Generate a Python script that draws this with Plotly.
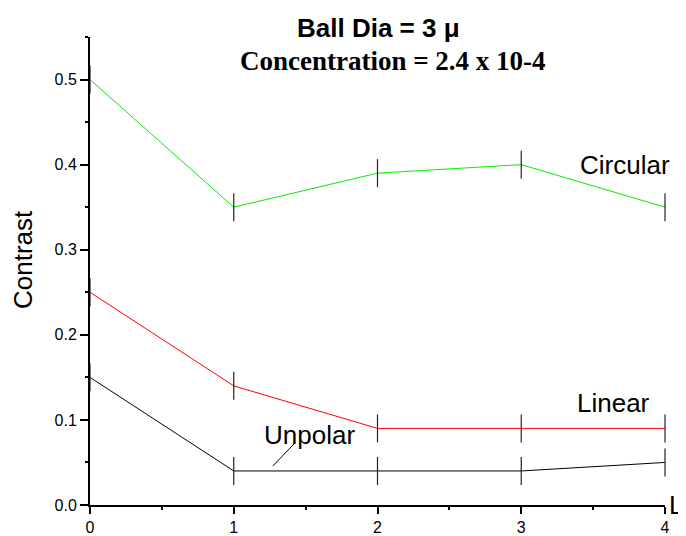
import plotly.graph_objects as go

L_vals = [0, 1, 2, 3, 4]
circular = [0.50, 0.35, 0.39, 0.40, 0.35]
linear = [0.25, 0.14, 0.09, 0.09, 0.09]
unpolar = [0.15, 0.04, 0.04, 0.04, 0.05]
y_ticks = [0.0, 0.1, 0.2, 0.3, 0.4, 0.5]
y_labels = ["0.0", "0.1", "0.2", "0.3", "0.4", "0.5"]
x_ticks = [0, 1, 2, 3, 4]

fig = go.Figure()
for ys, col in [(circular, "#00ee00"), (linear, "#ff0000"), (unpolar, "#000000")]:
    fig.add_trace(go.Scatter(
        x=L_vals, y=ys, mode="lines+markers",
        line=dict(color=col, width=1),
        marker=dict(symbol="line-ns-open", size=20, color="#222222",
                    line=dict(color="#222222", width=1.2)),
        cliponaxis=False, showlegend=False))

font_s = "Liberation Sans, Arial, sans-serif"
# page body has an 8px margin; figure sized so the plot area lands where the reference has it
fig.update_layout(
    width=678, height=528,
    margin=dict(l=82, r=21, t=29, b=31),
    plot_bgcolor="white", paper_bgcolor="white",
    font=dict(family=font_s, color="black"),
    xaxis=dict(range=[0, 4], tickvals=x_ticks, showline=True, linecolor="black", linewidth=2,
               ticks="outside", ticklen=7, tickwidth=1.5, tickcolor="black", automargin=False,
               minor=dict(dtick=0.5, ticks="outside", ticklen=3, tickcolor="black", tickwidth=1.5),
               showgrid=False, zeroline=False, tickfont=dict(size=16)),
    yaxis=dict(range=[0, 0.55], tickvals=y_ticks, ticktext=y_labels, showline=True, linecolor="black",
               linewidth=2, ticks="outside", ticklen=8, tickwidth=1.5, tickcolor="black", automargin=False,
               minor=dict(tick0=0, dtick=0.05, ticks="outside", ticklen=3, tickcolor="black", tickwidth=1.5),
               showgrid=False, zeroline=False, tickfont=dict(size=16)),
)

fig.add_annotation(text="<b>Ball Dia = 3 μ</b>", xref="paper", yref="paper", x=0.5, y=1.0,
                   xanchor="center", yanchor="middle", xshift=378 - (90 + 0.5 * 575), yshift=37 - 28,
                   showarrow=False, font=dict(size=26, family=font_s))
fig.add_annotation(text="<b>Concentration = 2.4 x 10-4</b>", xref="paper", yref="paper", x=0.5, y=1.0,
                   xanchor="center", yanchor="middle", xshift=393 - (90 + 0.5 * 575), yshift=37 - 61,
                   showarrow=False,
                   font=dict(size=27, family="Liberation Serif, Times New Roman, serif"))
fig.add_annotation(text="Contrast", xref="paper", yref="paper", x=0, y=0.5, textangle=-90,
                   xanchor="center", yanchor="middle", xshift=23 - 90, yshift=271 - 260,
                   showarrow=False, font=dict(size=26))
fig.add_annotation(text="Circular", x=3.72, y=0.40, xanchor="center", yanchor="middle",
                   showarrow=False, font=dict(size=26))
fig.add_annotation(text="Linear", x=3.645, y=0.12, xanchor="center", yanchor="middle",
                   showarrow=False, font=dict(size=26))
fig.add_annotation(text="Unpolar", x=1.53, y=0.082, xanchor="center", yanchor="middle",
                   showarrow=False, font=dict(size=26))
fig.add_shape(type="line", x0=1.273, y0=0.046, x1=1.426, y1=0.073, line=dict(color="black", width=1))
fig.add_annotation(text="L", xref="paper", yref="y", x=1.0, y=0.0, xanchor="center", yanchor="middle",
                   xshift=11, borderpad=0, showarrow=False, font=dict(size=26))

fig.write_html("out.html")
